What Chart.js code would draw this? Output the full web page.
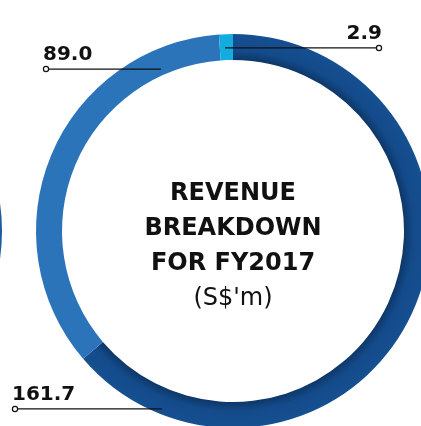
<!DOCTYPE html>
<html>
<head>
<meta charset="utf-8">
<script src="https://cdn.jsdelivr.net/npm/chart.js@4"></script>
<style>
  html, body { margin: 0; padding: 0; background: #fff; overflow: hidden; }
  body { width: 421px; height: 426px; position: relative; }
  #revenue { position: absolute; left: 0; top: 0; }
  /* edge of the neighbouring ring, cut off by the page */
  .neighbour {
    position: absolute; left: -392px; top: 34px;
    width: 342px; height: 342px;
    border: 26px solid #1c5ca0; border-radius: 50%;
  }
</style>
</head>
<body>
<div class="neighbour"></div>
<canvas id="revenue" width="466" height="462"></canvas>
<script>
// ── Data ──────────────────────────────────────────────────────────
const segments = ['Segment A', 'Segment B', 'Segment C'];
const revenue = [161.7, 89.0, 2.9];
const segmentColors = ['#134a8a', '#2c74ba', '#12acdf'];
const titleLines = ['REVENUE', 'BREAKDOWN', 'FOR FY2017'];
const unitLine = "(S$'m)";

// leader lines: angle on the ring (deg, clockwise from top), radius fraction, line end offset from centre
const leaders = [
  { angle: 201.8, r: 0.973, end: -218, align: 'left' },
  { angle: 336.0, r: 0.900, end: -187, align: 'left' },
  { angle: 357.5, r: 0.930, end: 146, align: 'right' },
];

const ctx = document.getElementById('revenue').getContext('2d');

// dark segment gets a soft inner shadow
function segmentFill(context) {
  const i = context.dataIndex;
  const chart = context.chart;
  if (i !== 0 || !chart.chartArea) return segmentColors[i];
  const { left, right, top, bottom } = chart.chartArea;
  const cx = (left + right) / 2, cy = (top + bottom) / 2;
  const g = chart.ctx.createRadialGradient(cx, cy, 171, cx, cy, 197);
  g.addColorStop(0, '#0e3767');
  g.addColorStop(0.35, '#134a8a');
  g.addColorStop(1, '#165091');
  return g;
}

const labelPlugin = {
  id: 'labels',
  afterDatasetsDraw(chart) {
    const c = chart.ctx;
    const arc = chart.getDatasetMeta(0).data[0];
    const cx = arc.x, cy = arc.y, R = arc.outerRadius;
    c.save();

    // centre title
    c.fillStyle = '#111';
    c.textAlign = 'center';
    c.textBaseline = 'middle';
    c.font = 'bold 24px "DejaVu Sans"';
    titleLines.forEach((t, k) => c.fillText(t, cx, cy - 37 + k * 35));
    c.font = '24px "DejaVu Sans"';
    c.fillText(unitLine, cx, cy + 68);

    // value labels with leader lines
    revenue.forEach((v, i) => {
      const L = leaders[i];
      const a = (L.angle - 90) * Math.PI / 180;
      const x0 = cx + Math.cos(a) * R * L.r;
      const y0 = cy + Math.sin(a) * R * L.r;
      const x1 = cx + L.end;
      c.strokeStyle = '#111';
      c.lineWidth = 1.2;
      c.beginPath();
      c.moveTo(x0, y0);
      c.lineTo(x1, y0);
      c.stroke();
      c.beginPath();
      c.arc(x1, y0, 2.6, 0, Math.PI * 2);
      c.fillStyle = '#fff';
      c.fill();
      c.stroke();
      c.fillStyle = '#111';
      c.font = 'bold 20px "DejaVu Sans"';
      c.textBaseline = 'alphabetic';
      c.textAlign = L.align;
      const tx = L.align === 'left' ? x1 - 3 : x1 + 3;
      c.fillText(v.toFixed(1), tx, y0 - 9);
    });
    c.restore();
  },
};

new Chart(ctx, {
  type: 'doughnut',
  data: {
    labels: segments,
    datasets: [{
      data: revenue,
      backgroundColor: segmentFill,
      borderWidth: 0,
    }],
  },
  options: {
    responsive: false,
    animation: false,
    radius: 197,
    cutout: '86.8%',
    layout: { padding: 0 },
    plugins: {
      legend: { display: false },
      tooltip: { enabled: false },
    },
  },
  plugins: [labelPlugin],
});
</script>
</body>
</html>
